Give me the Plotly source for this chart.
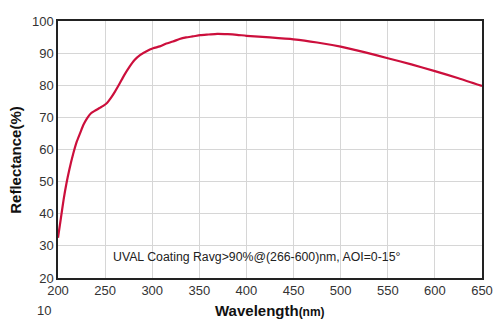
import plotly.graph_objects as go

# Measured reflectance of the UVAL coating
wavelength = [200, 203, 206, 209, 212, 216, 220, 224, 227, 231, 235, 240, 244, 248, 252,
              256, 260, 265, 270, 276, 281, 287, 294, 301, 308, 315, 322, 329, 336,
              343, 351, 360, 369, 380, 390, 400, 425, 450, 475, 500, 525, 550, 575,
              600, 625, 650]
reflectance = [32.5, 38.5, 44.5, 49.5, 53.7, 58.5, 62.5, 65.5, 67.7, 69.8, 71.3, 72.2, 72.9,
               73.6, 74.5, 76.0, 77.8, 80.3, 83.0, 85.8, 87.8, 89.4, 90.6, 91.5, 92.1,
               93.0, 93.6, 94.4, 94.9, 95.2, 95.6, 95.8, 96.0, 95.9, 95.7, 95.4, 94.9,
               94.3, 93.3, 92.0, 90.3, 88.4, 86.5, 84.4, 82.2, 79.8]

x_ticks = [200, 250, 300, 350, 400, 450, 500, 550, 600, 650]
y_ticks = [20, 30, 40, 50, 60, 70, 80, 90, 100]
note = "UVAL Coating Ravg>90%@(266-600)nm, AOI=0-15°"

fig = go.Figure()
fig.add_trace(go.Scatter(
    x=wavelength, y=reflectance, mode="lines",
    line=dict(color="#cc0f3c", width=2.2, shape="spline", smoothing=0.6),
    hoverinfo="skip", showlegend=False,
))

axis_common = dict(
    showgrid=True, gridcolor="#d6d6d6", gridwidth=1,
    showline=True, linecolor="#222222", linewidth=1.5, mirror=True,
    ticks="", zeroline=False,
    tickfont=dict(family="Liberation Sans, Arial", size=13, color="#333333"),
)

fig.update_xaxes(range=[200, 650], tickvals=x_ticks, **axis_common)
fig.update_yaxes(range=[20, 100], tickvals=y_ticks, **axis_common)

fig.add_annotation(
    x=0.5, y=-0.125, xref="paper", yref="paper", showarrow=False,
    text="<b>Wavelength<span style='font-size:12px'>(nm)</span></b>",
    font=dict(family="Liberation Sans, Arial", size=15, color="#111111"),
    xanchor="center", yanchor="middle",
)
fig.add_annotation(
    x=-0.102, y=0.459, xref="paper", yref="paper", showarrow=False,
    text="<b>Reflectance(%)</b>", textangle=-90,
    font=dict(family="Liberation Sans, Arial", size=15, color="#111111"),
    xanchor="center", yanchor="middle",
)
fig.add_annotation(
    x=256, y=26.6, xref="x", yref="y", showarrow=False,
    text=note, xanchor="left", yanchor="middle",
    font=dict(family="Liberation Sans, Arial", size=12.3, color="#222222"),
)
# Lone "10" tick label sitting below the frame
fig.add_annotation(
    x=0, y=-0.125, xref="paper", yref="paper", showarrow=False,
    text="10", xanchor="right", yanchor="middle", xshift=-5,
    font=dict(family="Liberation Sans, Arial", size=13, color="#333333"),
)

fig.update_layout(
    width=500, height=334,
    margin=dict(l=58, r=18, t=21, b=56, autoexpand=False),
    paper_bgcolor="white", plot_bgcolor="white",
)

fig.write_html("out.html")
